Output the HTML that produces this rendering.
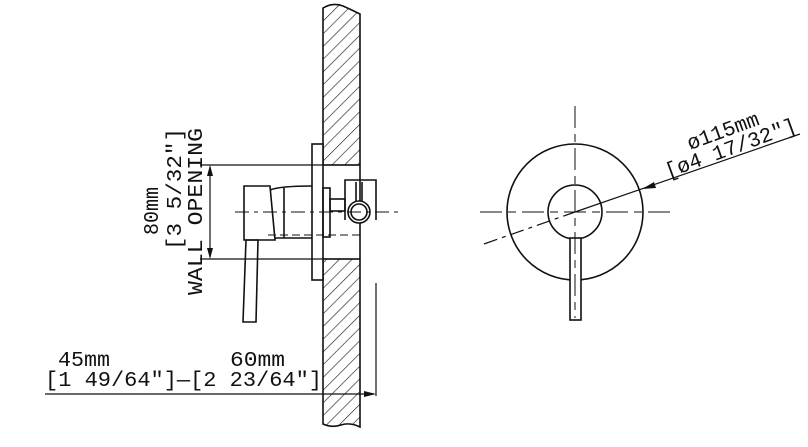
<!DOCTYPE html>
<html><head><style>body{margin:0;background:#fff}svg{display:block}text{font-family:"Liberation Mono",monospace;fill:#111}</style></head><body>
<svg width="808" height="447" viewBox="0 0 808 447" xmlns="http://www.w3.org/2000/svg">
<defs><pattern id="h" patternUnits="userSpaceOnUse" width="9" height="9" patternTransform="rotate(45)"><line x1="0" y1="0" x2="0" y2="9" stroke="#222" stroke-width="1.3"/></pattern></defs>
<g stroke="#111" stroke-width="1.6" fill="none">
<path d="M323 8 Q333 2 343 6 Q352 10 360 14 L360 165 L323 165 Z" fill="url(#h)"/>
<path d="M323 259 L360 259 L360 427 Q350 422 341 425 Q332 428 323 424 Z" fill="url(#h)"/>
<line x1="360" y1="165" x2="360" y2="259"/>
<rect x="312" y="144" width="11" height="136" fill="#fff"/>
<path d="M244 186 L270 186 L275 240 L244 240 Z"/>
<path d="M270 190 Q280 186 312 186 M275 238 L312 238"/>
<line x1="284" y1="188" x2="284" y2="238"/>
<rect x="323" y="188" width="7" height="49"/>
<rect x="330" y="199" width="15" height="12"/>
<path d="M345 220 L345 180 L376 180 L376 220"/>
<circle cx="359" cy="212" r="11" fill="#fff"/>
<circle cx="359" cy="212" r="8"/>
<path d="M356 182 L356 201 M362 182 L362 201"/>
<path d="M246 240 L258 240 L256 322 L243 322 Z"/>
<line x1="200" y1="165" x2="360" y2="165" stroke-width="1.2"/>
<line x1="200" y1="259" x2="360" y2="259" stroke-width="1.2"/>
<line x1="210" y1="167" x2="210" y2="257" stroke-width="1.2"/>
<line x1="45" y1="394" x2="374" y2="394" stroke-width="1.2"/>
<line x1="376" y1="283" x2="376" y2="396" stroke-width="1.2"/>
<line x1="235" y1="212" x2="400" y2="212" stroke-width="1" stroke-dasharray="14 5 4 5"/>
<line x1="268" y1="235" x2="360" y2="235" stroke-width="1" stroke-dasharray="8 4"/>
<circle cx="575" cy="212" r="68"/>
<circle cx="575" cy="212" r="27" fill="#fff"/>
<rect x="570" y="238" width="11" height="82" fill="#fff"/>
<line x1="480" y1="212" x2="670" y2="212" stroke-width="1" stroke-dasharray="22 6 8 6"/>
<line x1="575" y1="106" x2="575" y2="318" stroke-width="1" stroke-dasharray="22 6 8 6"/>
<line x1="484" y1="244" x2="575" y2="212" stroke-width="1.2" stroke-dasharray="14 5 4 5"/>
<line x1="575" y1="212" x2="800" y2="134" stroke-width="1.2"/>
</g>
<g fill="#111">
<path d="M210 165 L207 176 L213 176 Z M210 259 L207 248 L213 248 Z M376 394 L364 391 L364 397 Z M642 189 L654 182 L656 188 Z"/>
</g>
<g font-size="21">
<text transform="translate(158 235) rotate(-90)" textLength="48" lengthAdjust="spacingAndGlyphs">80mm</text>
<text transform="translate(181 250) rotate(-90)" textLength="122" lengthAdjust="spacingAndGlyphs">[3 5/32"]</text>
<text transform="translate(202 295) rotate(-90)" textLength="167" lengthAdjust="spacingAndGlyphs">WALL OPENING</text>
<text x="58" y="366" textLength="52" lengthAdjust="spacingAndGlyphs">45mm</text>
<text x="230" y="366" textLength="55" lengthAdjust="spacingAndGlyphs">60mm</text>
<text x="45" y="386" textLength="277" lengthAdjust="spacingAndGlyphs">[1 49/64"]—[2 23/64"]</text>
<text transform="translate(690 150) rotate(-20)" textLength="75" lengthAdjust="spacingAndGlyphs">ø115mm</text>
<text transform="translate(668 178) rotate(-20)" textLength="138" lengthAdjust="spacingAndGlyphs">[ø4 17/32"]</text>
</g>
</svg>
</body></html>
